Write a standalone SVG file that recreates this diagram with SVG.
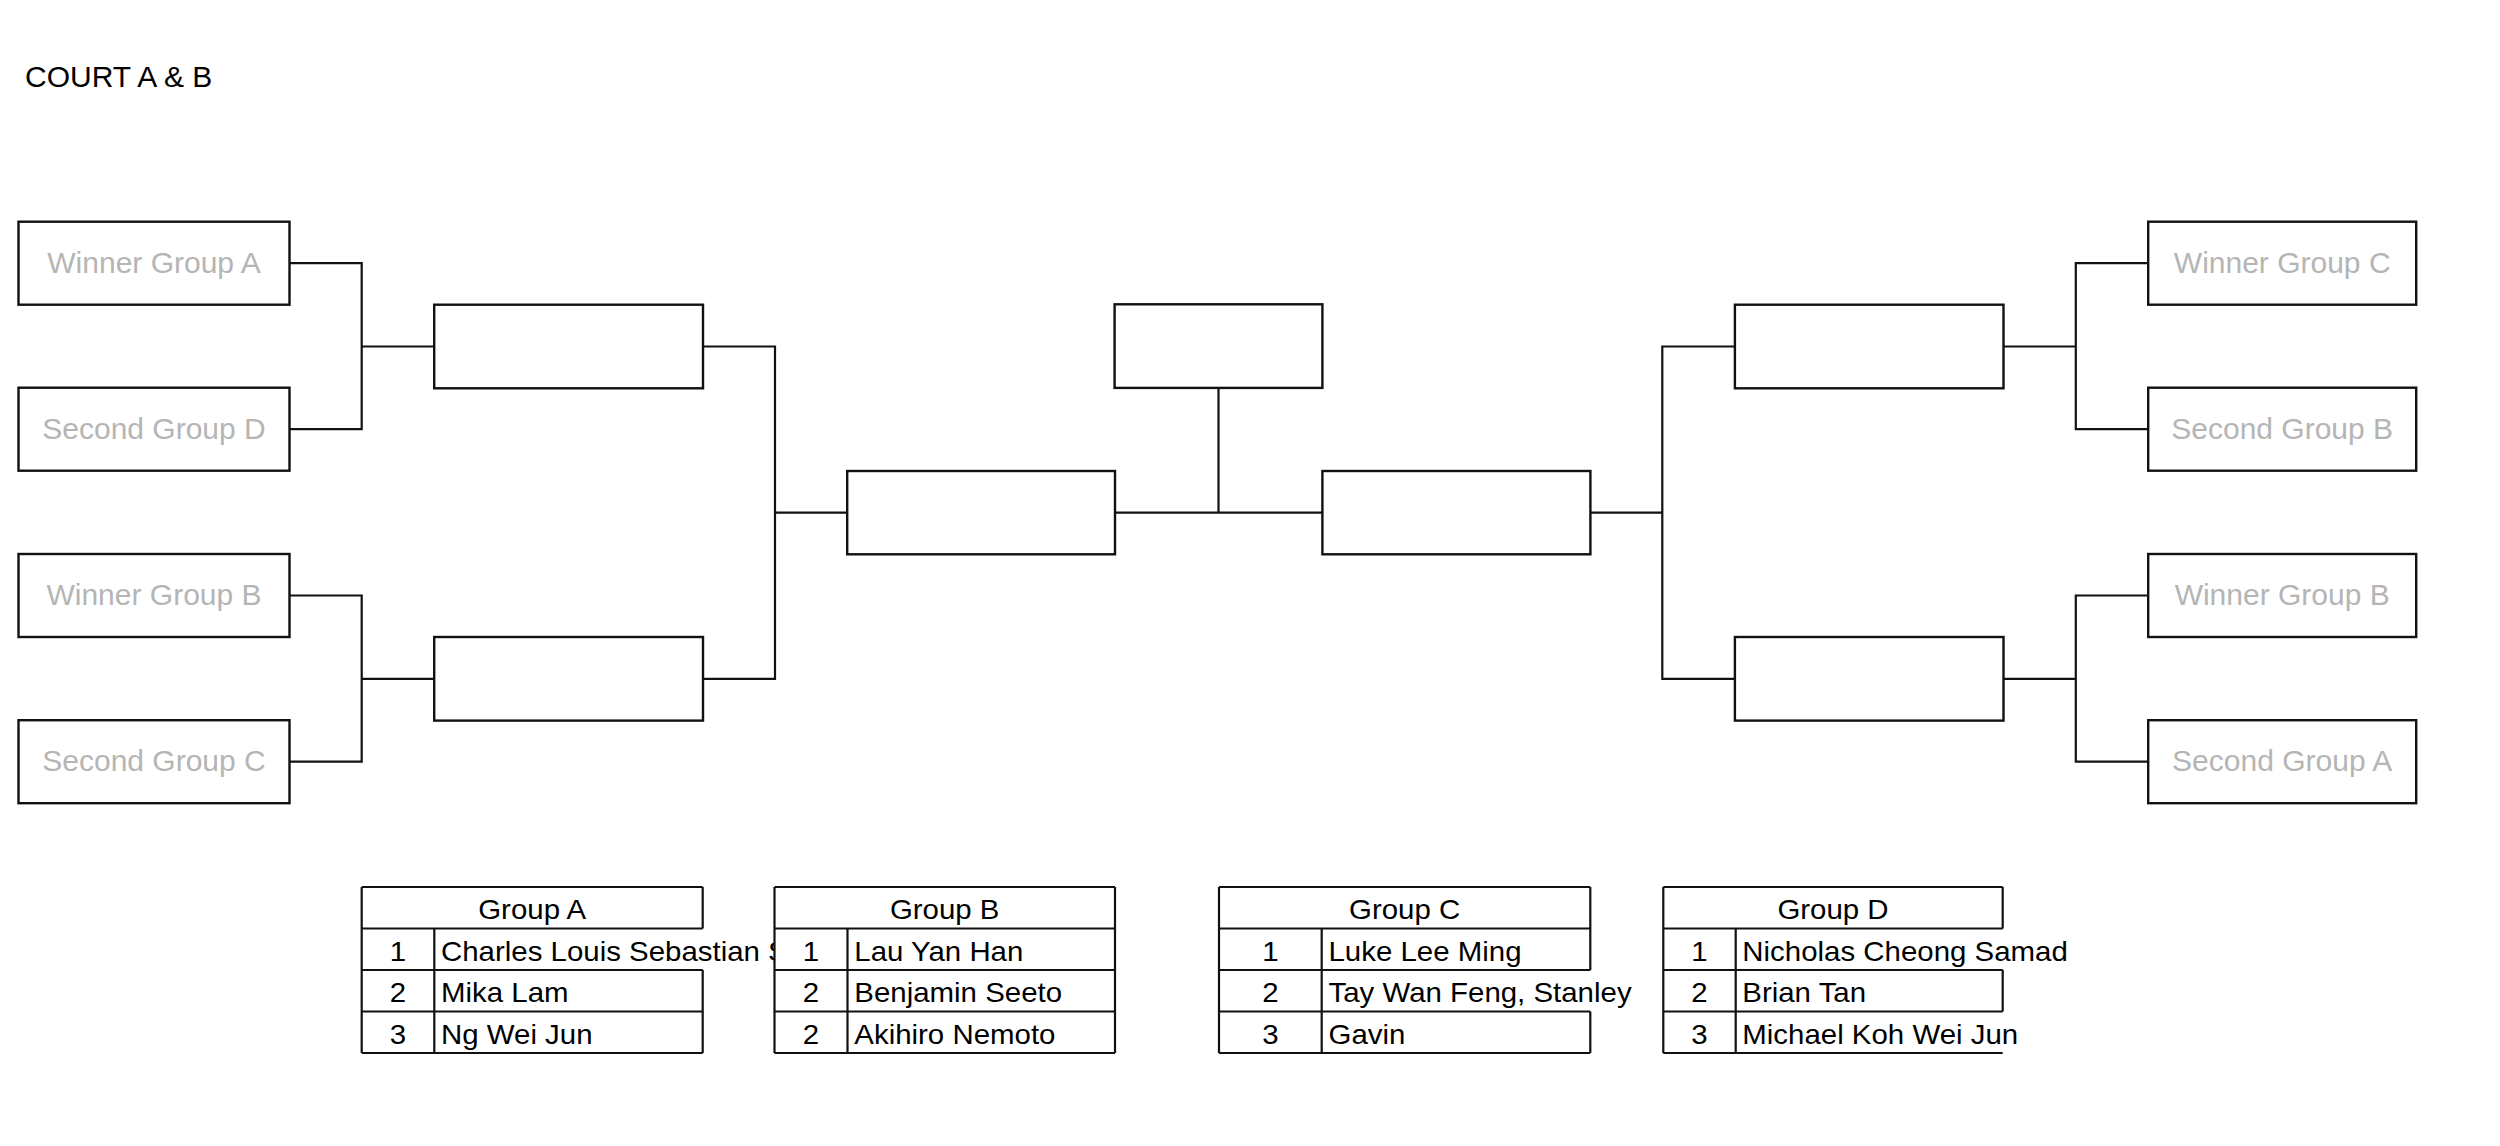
<svg xmlns="http://www.w3.org/2000/svg" width="2500" height="1146" viewBox="0 0 2500 1146">
<style>
.box{fill:#fff;stroke:#111;stroke-width:2.4}
.lbl{font-family:"Liberation Sans",Arial,sans-serif;font-size:30px;fill:#b5b5b5;text-anchor:middle}
.conn{fill:none;stroke:#111;stroke-width:2.2}
.tl{fill:none;stroke:#111;stroke-width:2.2}
.tt{font-family:"Liberation Sans",Arial,sans-serif;font-size:27px;fill:#000}
.c{text-anchor:middle}
.title{font-family:"Liberation Sans",Arial,sans-serif;font-size:30px;fill:#000}
</style>
<defs>
<clipPath id="clipA1"><rect x="434" y="928" width="340.3" height="42"/></clipPath>
</defs>
<rect width="2500" height="1146" fill="#fff"/>
<text class="title" x="25" y="87">COURT A &amp; B</text>

<g id="connectors">
<path class="conn" d="M289.5,263.2 H361.7 V429.2 H289.5 M361.7,346.5 H434.2"/>
<path class="conn" d="M289.5,595.5 H361.7 V761.7 H289.5 M361.7,678.8 H434.2"/>
<path class="conn" d="M703,346.5 H775 V678.8 H703 M775,512.6 H847.2"/>
<path class="conn" d="M1115,512.6 H1322.4 M1218.5,388 V512.6"/>
<path class="conn" d="M1590.4,512.6 H1662.3 M1734.9,346.5 H1662.3 V678.8 H1734.9"/>
<path class="conn" d="M2003.5,346.5 H2075.8 M2148.2,263.2 H2075.8 V429.2 H2148.2"/>
<path class="conn" d="M2003.5,678.8 H2075.8 M2148.2,595.5 H2075.8 V761.7 H2148.2"/>
</g>

<g id="l1"><rect class="box" x="18.5" y="221.7" width="271" height="83"/><text class="lbl" x="154" y="272.7">Winner Group A</text></g>
<g id="l2"><rect class="box" x="18.5" y="387.7" width="271" height="83"/><text class="lbl" x="154" y="438.7">Second Group D</text></g>
<g id="l3"><rect class="box" x="18.5" y="554" width="271" height="83"/><text class="lbl" x="154" y="605">Winner Group B</text></g>
<g id="l4"><rect class="box" x="18.5" y="720.2" width="271" height="83"/><text class="lbl" x="154" y="771.2">Second Group C</text></g>

<g id="ql1"><rect class="box" x="434.2" y="304.7" width="268.8" height="83.6"/></g>
<g id="ql2"><rect class="box" x="434.2" y="637" width="268.8" height="83.6"/></g>
<g id="sl"><rect class="box" x="847.2" y="471" width="267.8" height="83.3"/></g>
<g id="final"><rect class="box" x="1114.6" y="304.3" width="207.8" height="83.6"/></g>
<g id="sr"><rect class="box" x="1322.4" y="471" width="268" height="83.3"/></g>
<g id="qr1"><rect class="box" x="1734.9" y="304.7" width="268.6" height="83.6"/></g>
<g id="qr2"><rect class="box" x="1734.9" y="637" width="268.6" height="83.6"/></g>

<g id="r1"><rect class="box" x="2148.2" y="221.7" width="268" height="83"/><text class="lbl" x="2282.2" y="272.7">Winner  Group C</text></g>
<g id="r2"><rect class="box" x="2148.2" y="387.7" width="268" height="83"/><text class="lbl" x="2282.2" y="438.7">Second Group B</text></g>
<g id="r3"><rect class="box" x="2148.2" y="554" width="268" height="83"/><text class="lbl" x="2282.2" y="605">Winner Group B</text></g>
<g id="r4"><rect class="box" x="2148.2" y="720.2" width="268" height="83"/><text class="lbl" x="2282.2" y="771.2">Second Group A</text></g>

<g id="tableA">
<path class="tl" d="M361.7,887 H702.7 M361.7,928.5 H702.7 M361.7,970 H702.7 M361.7,1011.5 H702.7 M361.7,1053 H702.7 M361.7,887 V1053 M434.3,928.5 V1053 M702.7,887 V928.5 M702.7,970 V1053"/>
<text class="tt c" transform="translate(532.2,919.3) scale(1.09,1)">Group A</text>
<text class="tt c" transform="translate(398,960.8) scale(1.09,1)">1</text>
<text class="tt c" transform="translate(398,1002.3) scale(1.09,1)">2</text>
<text class="tt c" transform="translate(398,1043.8) scale(1.09,1)">3</text>
<g clip-path="url(#clipA1)"><text class="tt" transform="translate(441,960.8) scale(1.09,1)">Charles Louis Sebastian S</text></g>
<text class="tt" transform="translate(441,1002.3) scale(1.09,1)">Mika Lam</text>
<text class="tt" transform="translate(441,1043.8) scale(1.09,1)">Ng Wei Jun</text>
</g>

<g id="tableB">
<path class="tl" d="M774.5,887 H1115 M774.5,928.5 H1115 M774.5,970 H1115 M774.5,1011.5 H1115 M774.5,1053 H1115 M774.5,887 V1053 M847.5,928.5 V1053 M1115,887 V1053"/>
<text class="tt c" transform="translate(944.7,919.3) scale(1.09,1)">Group B</text>
<text class="tt c" transform="translate(811,960.8) scale(1.09,1)">1</text>
<text class="tt c" transform="translate(811,1002.3) scale(1.09,1)">2</text>
<text class="tt c" transform="translate(811,1043.8) scale(1.09,1)">2</text>
<text class="tt" transform="translate(854.3,960.8) scale(1.09,1)">Lau Yan Han</text>
<text class="tt" transform="translate(854.3,1002.3) scale(1.09,1)">Benjamin Seeto</text>
<text class="tt" transform="translate(854.3,1043.8) scale(1.09,1)">Akihiro Nemoto</text>
</g>

<g id="tableC">
<path class="tl" d="M1219,887 H1590.3 M1219,928.5 H1590.3 M1219,970 H1590.3 M1219,1011.5 H1590.3 M1219,1053 H1590.3 M1219,887 V1053 M1321.7,928.5 V1053 M1590.3,887 V970 M1590.3,1011.5 V1053"/>
<text class="tt c" transform="translate(1404.6,919.3) scale(1.09,1)">Group C</text>
<text class="tt c" transform="translate(1270.3,960.8) scale(1.09,1)">1</text>
<text class="tt c" transform="translate(1270.3,1002.3) scale(1.09,1)">2</text>
<text class="tt c" transform="translate(1270.3,1043.8) scale(1.09,1)">3</text>
<text class="tt" transform="translate(1328.5,960.8) scale(1.09,1)">Luke Lee Ming</text>
<text class="tt" transform="translate(1328.5,1002.3) scale(1.09,1)">Tay Wan Feng, Stanley</text>
<text class="tt" transform="translate(1328.5,1043.8) scale(1.09,1)">Gavin</text>
</g>

<g id="tableD">
<path class="tl" d="M1663.3,887 H2002.7 M1663.3,928.5 H2002.7 M1663.3,970 H2002.7 M1663.3,1011.5 H2002.7 M1663.3,1053 H2002.7 M1663.3,887 V1053 M1735.7,928.5 V1053 M2002.7,887 V928.5 M2002.7,970 V1011.5"/>
<text class="tt c" transform="translate(1833,919.3) scale(1.09,1)">Group D</text>
<text class="tt c" transform="translate(1699.5,960.8) scale(1.09,1)">1</text>
<text class="tt c" transform="translate(1699.5,1002.3) scale(1.09,1)">2</text>
<text class="tt c" transform="translate(1699.5,1043.8) scale(1.09,1)">3</text>
<text class="tt" transform="translate(1742.3,960.8) scale(1.09,1)">Nicholas Cheong Samad</text>
<text class="tt" transform="translate(1742.3,1002.3) scale(1.09,1)">Brian Tan</text>
<text class="tt" transform="translate(1742.3,1043.8) scale(1.09,1)">Michael Koh Wei Jun</text>
</g>
</svg>
